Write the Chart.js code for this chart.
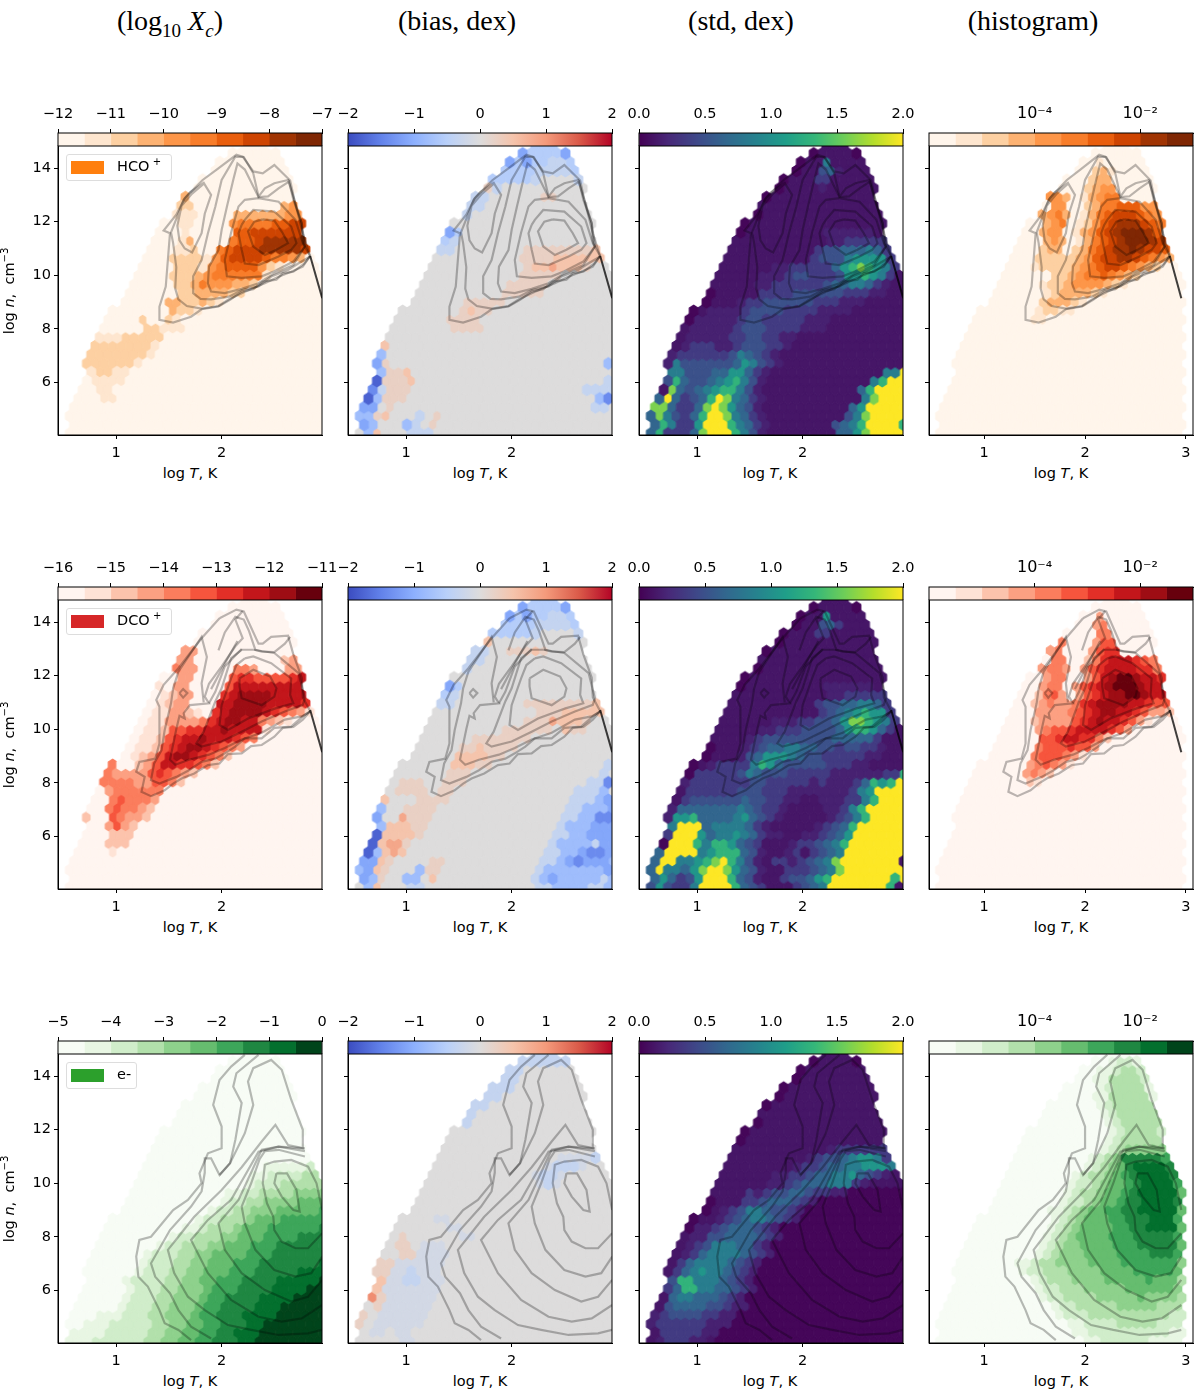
<!DOCTYPE html>
<html>
<head>
<meta charset="utf-8">
<title>Hexbin panels</title>
<script src="https://cdn.jsdelivr.net/npm/chart.js@4"></script>
<style>
html, body { margin: 0; background: #fff; }
body { position: relative; width: 1200px; height: 1391px; overflow: hidden; font-family: "DejaVu Sans", sans-serif; color: #000; }
canvas { position: absolute; }
.head { position: absolute; top: 4px; width: 300px; margin-left: -150px; text-align: center; font: 28px "Liberation Serif", serif; }
.head sub { font-size: 19px; line-height: 0; }
.xlab { position: absolute; width: 160px; margin-left: -80px; text-align: center; font-size: 14.5px; white-space: pre; }
.ylab { position: absolute; left: 10px; width: 160px; height: 18px; margin-left: -80px; margin-top: -9px; text-align: center; font-size: 14.5px; transform: rotate(-90deg); white-space: pre; }
.ylab sup { font-size: 10px; line-height: 0; }
.legend { position: absolute; left: 66px; height: 27px; background: rgba(255,255,255,.8); border: 1px solid #ddd; border-radius: 3px; font-size: 14.5px; box-sizing: border-box; }
.legend b { position: absolute; left: 4px; top: 6px; width: 33px; height: 13px; }
.legend span { position: absolute; left: 50px; top: 3px; white-space: nowrap; }
.legend sup { font-size: 10px; line-height: 0; }
</style>
</head>
<body>
<script>
// Hex grid: start and end column of the covered cells in each row, bottom row first
const footprintStart = [0,1,0,1,1,2,2,3,2,3,3,4,4,5,5,7,7,8,8,9,9,10,10,11,11,13,13,14,15,16,17,18,19,21];
const footprintEnd = [29,30,29,30,29,30,29,30,29,30,29,30,29,30,29,30,29,30,29,29,28,28,27,27,27,27,26,26,26,26,25,25,24,23];

// Colour levels of the stepped bars
const orangeLevels = ['#fff5eb','#fee6cf','#fdd0a2','#fdb272','#fd9649','#f87d2a','#e95e0d','#ce4401','#a03403','#7f2704'];
const redLevels = ['#fff5f0','#fee3d6','#fcc3ac','#fca082','#fb7d5d','#f6553d','#e32f27','#c3161b','#9e0d14','#67000d'];
const greenLevels = ['#f7fcf5','#e8f6e3','#d0edca','#b2e0ab','#8ed18c','#66bd6f','#3da65a','#1f8742','#03702e','#00441b'];
const coolwarmStops = ['#3b4cc0','#6282ea','#8db0fe','#b9d0f9','#dddcdc','#f5c4ac','#f49a7b','#da5a49','#b40426'];
const viridisStops = ['#440154','#482878','#3e4989','#31688e','#26828e','#1f9e89','#35b779','#6ece58','#b5de2b','#fde725'];

// Value of each letter used in the bias and std rows
const biasValues = [-1.8,-1.4,-1.1,-0.8,-0.35,0,0.25,0.5,0.85,1.1,-0.15,-0.55];
const stdValues = [0.03,0.12,0.18,0.35,0.5,0.65,0.85,1.05,1.3,1.6,2.0];

// Tick labels
const xTicks = [1,2];
const xTicksHist = [1,2,3];
const yTicks = [6,8,10,12,14];
const biasTicks = [-2,-1,0,1,2];
const stdTicks = [0,0.5,1,1.5,2];
const histTicks = [-4,-2];
const hcoAbundTicks = [-12,-11,-10,-9,-8,-7];
const dcoAbundTicks = [-16,-15,-14,-13,-12,-11];
const elecAbundTicks = [-5,-4,-3,-2,-1,0];

// Cells as row:column:levels, everything else in the footprint keeps the panel's base level
const hcoAbund = ['27:14:3','26:13:22','25:13:111','24:13:11','23:14:1','22:13:13','21:13:1120056777888887','20:12:2222146777765543','19:13:2221456666421','18:12:222345555551','17:13:2235444332','16:13:22333322','15:12:3322321','14:12:3221','13:9:2','13:12:21','12:9:22','12:11:111','11:4:11122222','10:3:22222221','9:3:22222221','8:2:2222221','7:3:12211','6:3:1111','5:4:11','4:4:11','22:19:566788888','23:20:66777777','24:19:455556677','25:20:33333344','26:25:34'];
const hcoBias = ['33:21:bbb','32:19:2bbbb2','31:18:2b2bb44b','30:17:bbbb4444b','29:16:bbbbb4','29:26:4','28:15:64','27:14:44','27:22:66','26:13:44','25:13:4','23:11:2b','22:10:b4','21:10:44','21:20:666666667','20:19:6666777777','19:20:67787776','18:19:66666','17:18:66666','16:17:66666','15:13:66666','14:12:6766','13:11:6666','12:11:6666','10:3:7','9:3:3','8:2:26','7:3:3667','6:2:06667','5:2:14666','4:1:03666','3:1:2256','2:0:3367','1:1:23','0:1:37','1:6:34','2:7:4','0:6:44','0:8:4','1:9:6','2:9:6','8:29:3','6:29:4','5:27:4444','4:28:31','3:28:44'];
const hcoStd = ['0:0:583335 9aaa8642','0:22:5579aaaaa9','1:1:58633 7aaa8653 2','1:22:456 8aaaa87','2:0:596435 8aa96532','2:23:469aaaaa','3:1:99533 59a97542','3:24:57aaaaa','4:1:5a5345 8a96532','4:25:69aaaa','5:2:19545 6 788642','5:25:58aaaaa','6:2:4854456786 42','6:26:68aa','7:3:66444557753 2','7:28:66a','8:2:264444445764 32','9:3:23333334654 32','10:3:123332234443 32','11:4:122222334 43322','12:4:1222223444333 32 22','13:5:12222234433333 222','14:5:0','14:7:2222344443333 2222','15:7:01112334444443332 22','16:7:0111113333444444333 22','17:12:1223333334556653 2','18:12:122234433347787 63','19:13:11223333357898763','20:19:3444677773','21:20:344555 6 53','22:21:2233333','23:21:222222','31:21:6','30:20:452','29:20:33','28:20:2'];
const hcoHist = ['31:20:1','30:19:231','29:19:233','28:18:2344','27:14:443013455','26:14:44','26:18:235566644','25:13:3453','25:18:1356777654','24:13:345','24:17:12467888765','23:13:344','23:17:134678999865','22:13:343','22:17:135678999876','21:13:233','21:17:235678898776','20:12:22222346778876543','19:12:1222234567765432','18:14:22345565432','17:13:12234444321','16:13:12333321','15:13:233321','14:12:12211','13:12:11'];

const dcoAbund = ['27:14:33','26:13:33','25:13:433','24:13:33','23:11:1033','22:11:1233','21:11:1233','20:10:113321','19:10:11333346788774321','20:17:678888765431','21:18:77888877776','22:18:6788887777','23:19:577777777','24:19:566555567','25:20:443','25:26:33','26:25:23','18:9:112556677877771','17:9:11256778777654','16:8:1125678876543','15:8:123578876542','14:5:4','14:8:2357766542','13:5:43333565432','12:4:4444335542','11:5:344444','11:11:4','10:5:454443','9:5:454432','8:2:2','8:5:54332','7:5:3532','6:5:222','5:5:222','4:5:1'];
const dcoBias = ['33:21:bbb','32:19:2bbbb2','31:18:2b2bb44b','30:17:bbbb4444b','29:16:bbbbb4','29:26:4','28:15:7','27:14:44','27:18:66676','26:13:44','25:13:4','23:11:2b','22:10:b4','21:10:44','21:20:666666667','20:21:66677777','19:20:66687776','18:17:666666','18:24:766','17:14:6666666','16:12:6676666','15:12:777766','14:11:77766','13:11:666','12:5:666','12:10:666','11:5:6666','11:10:66','10:3:7','10:7:6666','9:3:3','9:6:6666','8:2:2','8:5:8666','7:3:377766','6:2:077776','5:2:07886','4:1:03787','3:1:2276','2:0:3276','1:1:236','0:1:37','1:6:33','2:7:3','0:6:44','2:8:66','1:9:7','3:9:66','14:29:4','13:29:4','12:27:441','11:26:4443','10:25:44432','9:25:443332','8:24:4433 11','7:24:433322 2','6:23:4433222','5:23:43333422','4:22:44332112','3:22:443212223','2:21:433333332','1:21:4323333343','0:21:443333443'];
const dcoStd = ['0:0:47433 6aaaa8543 11134 56aaaaaaa8','1:1:5753 47aaa8542 1134457 8aaaaaaa8a','2:0:5a66579aa97542 11333456 9aaaaaaa7','3:1:5aa66789a8642 133 2345 69aaaaaaa','4:1:5aaaa67888542112313456aaaaaaa','5:2:0aaa8688754 31 1123345 68aaaaaaa','6:2:3aaa756676532 2112234 57aaaaaa','7:3:6aaa566665321 111 1234 58aaaaaa','8:2:27785555 675 43211111 234 68aaaa','9:3:2555555565433 21111 2236 8aaaaa','10:3:1344444454433 2211222 33 68aaa','11:4:133333344433 32222222 3 67aaaa','12:4:2333333344 33333 2322 2358 7 8a','13:5:23333346544433333 222222 338','14:5:0','14:7:2333368754 4444333 22','15:7:0111245 777 6544333332 2','16:7:01112 34 55 665544344 3 32','17:12:23444444445 555 53','18:12:1 22 3334444 57887 53','19:13:112 22 3344 57998763','20:20:34567 8773','21:20:3445 5 6653','22:21:2233333','23:21:222222','31:21:7','30:20:453','29:20:33'];
const dcoHist = ['31:20:3','30:19:34','29:20:44','28:15:4','28:19:355','27:14:34','27:19:3566','26:14:44','26:18:246777654','25:13:3443','25:18:3567777664','24:13:344','24:18:35789987765','23:13:344','23:17:356789998775','22:12:2453','22:17:356788998776','21:12:2343','21:16:34678888776554','20:12:3333','20:16:4567887765332','19:12:23333','19:17:5678776531','18:12:345567777653','17:13:556776642','16:12:45556553','15:12:4555431','14:11:345431','13:11:3432','12:11:21'];

const elecAbund = ['0:0:111222222334455667778899999999','1:1:111122222334455667788899999999','2:2:111222223344556677788 9999999','3:4:111222334445667778888999999','4:6:12223344456677778889 9999','5:7:122233444566777788889999','6:7:12223344456667777888899','7:7:122223344556667777888889','8:8:1222334455566677777888','9:9:12223344555666 77777778','10:9:12223344555566 6777777','11:11:122333445556 66777777','12:12:122333445556666777','13:14:11233345556666667','14:15:122333455566666','15:17:12233444555556','16:18:122334444555','17:19:112233334444','18:21:122233333','19:22:11222233','20:23:111112'];
const elecBias = ['33:21:444','32:19:444444','31:18:44','30:17:44','29:16:444','28:15:44','27:14:44','26:13:4','25:13:4','21:24:aaaa4','20:22:a444a','19:21:a44a','18:21:a4a','12:5:6','11:5:66','11:8:aaa','10:5:66','10:7:aaaa','9:3:66','9:5:aaaaaa','8:2:66','8:4:aa4aaa','7:3:7','7:4:aa44aaa','6:2:7','6:3:aaaaaaa','5:2:96','5:4:aaaaaa','4:2:6','4:3:aaaaaa','3:1:6','3:3:aaaaaa','2:0:65','2:2:aaaaaa','1:2:aa','1:5:aa','0:5:aa','13:11:aa','12:12:aa','14:9:aa'];
const elecStd = ['0:8:0000000000000000000000000','1:9:0000000000000000000000','2:9:0000000000000000000000','3:10:000000000000000000000','4:11:00000000000000000000','5:11:00000000000000000000','6:12:0000000000000000000','7:12:0000000000000000000','8:12:0000000000000000000','9:13:000000000000000000','10:14:00000000000000000','11:14:00000000000000000','12:15:0000000000000000','13:15:0000000000000000','14:17:00000000000000','15:18:0000000000000','16:19:000000000000','17:23:00000000','0:0:123332 2','1:1:13333322','2:0:23333332 22','3:1:234444 3322','4:1:145555 443 22','5:2:15665554 32','6:2:3588 66 554 32','7:3:488666 54 32','8:2:1356766 54 32','9:3:1356666 54 32','10:3:12356666 54 32','11:4:123466 6 5532','12:4:12244555 5432','13:5:122345 55 432','14:5:1','14:8:23456654 32','15:9:2346654 4 32','16:11:334555 4 32','17:12:32344 55 4 33 22','18:14:2234 5556 66 32','19:15:2233 455 66 754 32','20:17:2334 55 66 777 65 2','21:19:234 4 56776 32','22:21:2333 33 33'];
const elecHist = ['32:21:1221','31:20:112332','30:19:1133332','29:20:1233331','28:19:11333331','27:20:12333331','26:20:1233333','25:21:12333331','24:21:1233332','23:21:12333332','22:20:123444443','21:19:12347777764','20:18:12345788887','19:17:1233456788887','18:16:12234556788886','17:16:123345567888885','16:15:122345567788887','15:14:11234556677888885','14:14:1234555667778886','13:14:12345555667788885','12:13:12345555666777776','11:13:123445555666777775','10:12:123444555566667776','9:10:1123344445555666666 64','8:10:12233344445555666665','7:12:1233344445555565553','6:12:12233344444555 5554','5:13:122333344444544443','4:14:122333334444 4333','3:15:1222333333333322','2:16:11222233333222','1:17:11222222222211','0:18:112222221111'];

const stdRim = ['32:19:0','32:24:0','31:18:0','30:17:0','29:16:0','28:15:0','27:14:0','25:13:0','24:11:0','23:11:0','16:7:0','15:7:0','14:5:0','13:5:0'];

// Contour lines as [log T, log n]
const hcoContours = [
  [[2.39,12.09],[2.5,12.04],[2.58,11.57],[2.63,11.2],[2.52,10.95],[2.41,10.76],[2.3,11.07],[2.25,11.64],[2.31,12],[2.39,12.09]],
  [[2.19,11.88],[2.22,12.07],[2.3,12.44],[2.5,12.38],[2.66,11.82],[2.71,11.2],[2.66,10.95],[2.54,10.7],[2.35,10.38],[2.22,10.44],[2.19,10.95],[2.16,11.57],[2.19,11.88]],
  [[2.09,11.6],[2.16,12.57],[2.22,12.82],[2.35,12.88],[2.54,12.75],[2.7,12.07],[2.76,11.32],[2.79,11.07],[2.68,10.51],[2.5,10.15],[2.38,9.96],[2.19,9.9],[2.05,9.96],[2.03,10.57],[2.09,11.6]],
  [[2.35,12.92],[2.44,12.95],[2.54,13.25],[2.64,13.5],[2.68,12.82],[2.76,11.95],[2.79,11.07],[2.68,10.38],[2.5,10.07],[2.35,9.7],[2.19,9.49],[2.03,9.33],[1.9,9.39],[1.87,9.7],[1.88,10.32],[1.97,10.94],[2,11.69],[2.05,12.56],[2.11,13.56],[2.15,14.18],[2.22,13.95],[2.35,12.92]],
  [[2.84,10.7],[2.73,10.45],[2.63,10.2],[2.47,9.95],[2.35,9.58],[2.19,9.45],[2.07,9.2],[1.9,9.1],[1.8,9.12],[1.73,9.33],[1.73,9.96],[1.81,10.57],[1.87,11.57],[1.94,12.56],[2,13.56],[2.13,14.43],[2.21,14.42],[2.3,13.81],[2.35,12.94],[2.41,13.25],[2.5,13.44],[2.63,13.56],[2.69,12.82],[2.77,11.57],[2.84,10.7]],
  [[2.84,10.72],[2.77,10.32],[2.66,10.13],[2.54,9.94],[2.41,9.7],[2.3,9.52],[2.19,9.33],[2.07,9.1],[1.97,8.85],[1.81,8.75],[1.67,8.85],[1.59,9.1],[1.56,9.5],[1.57,10.3],[1.54,11.2],[1.52,11.6],[1.59,12.3],[1.64,12.82],[1.7,13.1],[1.83,13.45],[1.9,13],[1.84,12.3],[1.81,11.57],[1.72,10.85],[1.65,11],[1.6,11.3],[1.58,11.85],[1.62,12.6],[1.72,13.05],[1.84,13.45]],
  [[2.84,10.72],[2.78,10.42],[2.68,10.13],[2.58,10.07],[2.52,9.83],[2.39,9.76],[2.3,9.48],[2.19,9.39],[2.08,9.08],[1.97,8.83],[1.81,8.73],[1.71,8.45],[1.54,8.23],[1.41,8.33],[1.41,8.83],[1.47,9.58],[1.49,10.57],[1.51,11.57],[1.45,11.67],[1.57,12.26],[1.65,12.88],[1.82,13.56],[1.95,13.94],[2.14,14.5],[2.2,14.43],[2.3,13.88],[2.39,13.81],[2.5,14.12],[2.65,13.54],[2.69,12.82],[2.76,11.94],[2.77,11.2],[2.84,10.72]]
];
const dcoContours = [
  [[2.17,11.9],[2.3,12.22],[2.46,11.97],[2.52,11.53],[2.5,11.22],[2.38,10.9],[2.19,11.16],[2.17,11.6],[2.17,11.9]],
  [[2.22,12.65],[2.3,12.72],[2.47,12.47],[2.66,11.9],[2.65,11.28],[2.68,10.97],[2.51,10.78],[2.25,10.4],[2.06,9.97],[1.98,10.16],[2,10.9],[2.09,11.9],[2.14,12.4],[2.22,12.65]],
  [[2.3,12.97],[2.5,12.85],[2.73,12.1],[2.79,11.16],[2.77,10.91],[2.6,10.66],[2.38,10.29],[2.19,9.91],[2,9.54],[1.81,9.35],[1.76,9.47],[1.83,9.91],[1.94,11.04],[2,11.53],[2.09,12.66],[2.19,12.97],[2.3,12.97]],
  [[2.84,10.67],[2.76,10.48],[2.6,10.36],[2.38,9.87],[2.19,9.62],[2.03,9.3],[1.88,9.05],[1.69,8.86],[1.56,8.67],[1.51,8.86],[1.57,10],[1.6,10.5],[1.65,10.4],[1.64,10.6],[1.7,10.9],[1.88,10.97],[1.84,11.22],[1.88,11.7],[2,12.35],[2.13,13.1],[2.2,13.4],[2.13,14.1],[2.2,14.42]],
  [[2.84,10.67],[2.77,10.36],[2.68,10.09],[2.58,10.05],[2.5,9.72],[2.38,9.41],[2.28,9.37],[2.19,9.1],[2.06,9.07],[1.98,8.72],[1.87,8.66],[1.74,8.35],[1.62,8.16],[1.54,7.97],[1.46,7.72],[1.33,7.5],[1.24,7.66],[1.27,8.22],[1.19,8.41],[1.22,8.78],[1.37,8.9],[1.41,9.47],[1.41,10.84],[1.38,11.09],[1.45,11.66],[1.59,12.28],[1.81,13.4],[1.98,14.15]],
  [[2.84,10.67],[2.77,10.48],[2.66,10.1],[2.5,10.05],[2.38,9.66],[2.22,9.66],[2.13,9.35],[2.03,9.1],[1.94,8.9],[1.81,8.78],[1.69,8.47],[1.57,8.22],[1.41,7.97],[1.33,8.1],[1.36,8.72],[1.43,9.22],[1.46,9.97],[1.52,10.97],[1.54,11.53],[1.59,12.15],[1.81,13.45],[1.86,12.7],[1.81,11.72],[1.83,11]],
  [[1.98,14.15],[2.14,14.47],[2.21,14.4],[2.35,13.2],[2.39,13.2],[2.47,13.45],[2.63,13.5],[2.68,12.8],[2.76,11.93],[2.77,11.2],[2.84,10.67]],
  [[1.97,12.95],[2.03,13.62],[2.13,14.2],[2.21,14.1],[2.26,13.67],[2.32,12.97],[2.38,12.9],[2.5,12.88],[2.6,13.2],[2.65,13.45]],
  [[1.6,11.35],[1.635,11.5],[1.675,11.35],[1.635,11.18],[1.6,11.35]],
  [[1.88,10.97],[1.94,11.4],[2.03,12.35],[2.19,13]],
  [[1.9,11.5],[2.05,12.6],[2.15,13.3]]
];
const elecContours = [
  [[2.52,10.37],[2.62,10.37],[2.71,9.75],[2.74,8.94],[2.68,9],[2.57,9.5],[2.5,10],[2.52,10.37]],
  [[2.954,8.13],[2.82,7.57],[2.7,7.57],[2.57,7.82],[2.5,8.25],[2.49,8.75],[2.43,9.25],[2.39,10],[2.41,10.69],[2.5,10.81],[2.66,10.87],[2.82,10.62],[2.9,10],[2.954,9]],
  [[2.954,7.26],[2.85,6.64],[2.7,6.51],[2.5,6.76],[2.32,7.51],[2.22,8.5],[2.19,9.13],[2.28,10],[2.36,10.9],[2.41,11.2],[2.54,11.25],[2.79,11]],
  [[2.954,6.39],[2.82,5.76],[2.66,5.58],[2.41,6.01],[2.19,6.64],[2.03,7.51],[1.97,8.5],[2.16,9.38],[2.35,11],[2.38,11.25],[2.54,11.37],[2.79,11.3]],
  [[2.954,5.45],[2.76,4.95],[2.57,4.83],[2.35,5.01],[2.09,5.64],[1.87,6.64],[1.71,7.88],[1.87,8.63],[2.09,9.38],[2.35,11.18],[2.54,11.37],[2.79,11.2]],
  [[2.954,4.52],[2.82,4.39],[2.54,4.33],[2.28,4.52],[2.06,4.7],[1.84,5.26],[1.68,5.76],[1.55,6.64],[1.49,7.51],[1.59,8],[1.74,8.75],[2,9.75],[2.19,10.6],[2.38,11.56],[2.51,12.18],[2.63,11.43],[2.77,11.31],[2.77,12],[2.66,13.12],[2.57,14.24],[2.47,14.61],[2.3,14.3],[2.25,13.8],[2.3,12.93],[2.22,11.87],[2.08,10.75],[1.98,10.31]],
  [[1.9,4.2],[1.71,4.64],[1.59,5.26],[1.51,5.89],[1.37,6.51],[1.33,7.01],[1.51,8.25],[1.71,9.13],[1.81,9.7],[1.84,10.4],[1.84,10.93],[1.9,10.93],[1.98,10.31],[2.08,10.75],[2.13,11.62],[2.19,13],[2.11,13.61],[2.14,14.11],[2.35,14.8]],
  [[1.71,4.14],[1.59,4.52],[1.46,4.77],[1.41,5.26],[1.3,6.14],[1.21,6.51],[1.19,7.26],[1.22,7.88],[1.33,8],[1.54,9],[1.68,9.38],[1.81,10],[1.79,10.37],[1.87,11.12],[2,11.31],[2,12.12],[1.92,12.93],[1.98,13.86],[2.09,14.36],[2.22,14.8]]
];
const outerTail = [[2.954,9.14],[2.84,10.72]];

const xMinMain = 0.448, xMaxMain = 2.952, xMinHist = 0.453, xMaxHist = 3.07;
const yMin = 4.03, yMax = 14.83;
const colStep = 0.0813, rowStep = 0.327, firstCol = 0.519, firstRow = 4.086;
const panelW = 264, panelH = 289;
const colLeft = [58, 348.3, 639, 929.3];
const rowTop = [146, 600, 1054];

function hexToRgb(c) {
    return [1, 3, 5].map(i => parseInt(c.slice(i, i + 2), 16));
}

// Colour at t (0..1) along a list of stops
function rampColor(stops, t) {
    const p = Math.max(0, Math.min(1, t)) * (stops.length - 1);
    const i = Math.min(Math.floor(p), stops.length - 2);
    const a = hexToRgb(stops[i]), b = hexToRgb(stops[i + 1]);
    const mix = a.map((v, k) => Math.round(v + (b[k] - v) * (p - i)));
    return `rgb(${mix.join(',')})`;
}

// Picture of one hexagon, used as the point style
function hexImage(color, w) {
    const h = rowStep * (panelH / (yMax - yMin)) * 4 / 3;
    const cv = document.createElement('canvas');
    cv.width = Math.ceil(w) + 4;
    cv.height = Math.ceil(h) + 4;
    const c = cv.getContext('2d');
    c.translate(cv.width / 2, cv.height / 2);
    c.beginPath();
    [[0,-h/2],[w/2,-h/4],[w/2,h/4],[0,h/2],[-w/2,h/4],[-w/2,-h/4]].forEach((p, i) => i ? c.lineTo(p[0], p[1]) : c.moveTo(p[0], p[1]));
    c.closePath();
    c.fillStyle = color;
    c.strokeStyle = color;
    c.lineWidth = 1.3;
    c.lineJoin = 'round';
    c.fill();
    c.stroke();
    return cv;
}

// Group the cells of a panel by level
function buildCells(base, patches) {
    const grid = footprintStart.map((s, r) => {
        const row = {};
        for (let c = s; c <= footprintEnd[r]; c++) row[c] = base;
        return row;
    });
    patches.forEach(p => {
        const [r, c, levels] = p.split(':');
        levels.replace(/ /g, '').split('').forEach((ch, i) => {
            const col = +c + i;
            if (grid[r][col] !== undefined) grid[r][col] = parseInt(ch, 36);
        });
    });
    const byLevel = {};
    grid.forEach((row, r) => {
        Object.keys(row).forEach(c => {
            const lv = row[c];
            (byLevel[lv] = byLevel[lv] || []).push({
                x: firstCol + colStep * (+c) + (r % 2 ? 0 : colStep / 2),
                y: firstRow + rowStep * r
            });
        });
    });
    return byLevel;
}

const framePlugin = {
    id: 'frame',
    afterDraw(chart) {
        const a = chart.chartArea, c = chart.ctx;
        c.save();
        c.strokeStyle = '#000';
        c.lineWidth = 1;
        c.strokeRect(a.left, a.top, a.right - a.left, a.bottom - a.top);
        c.restore();
    }
};

function makeCanvas(left, top, w, h) {
    const cv = document.createElement('canvas');
    cv.width = w;
    cv.height = h;
    cv.style.left = left + 'px';
    cv.style.top = top + 'px';
    document.body.appendChild(cv);
    return cv;
}

const tickFont = { family: 'DejaVu Sans', size: 14.5 };

function addPanel(col, row, base, patches, colorOf, contours, tail) {
    const hist = col === 3;
    const xMin = hist ? xMinHist : xMinMain, xMax = hist ? xMaxHist : xMaxMain;
    const hexW = colStep * panelW / (xMax - xMin);
    const cells = buildCells(base, patches);
    const hexSets = Object.keys(cells).map(lv => ({
        data: cells[lv],
        pointStyle: hexImage(colorOf(+lv), hexW),
        pointRadius: 7,
        pointHoverRadius: 7,
        showLine: false,
        order: 2
    }));
    const lines = contours.map(line => ({
        data: line.map(p => ({ x: p[0], y: p[1] })),
        showLine: true,
        borderColor: 'rgba(0,0,0,0.27)',
        borderWidth: 2.2,
        pointRadius: 0,
        order: 1
    }));
    if (tail) {
        lines.push({
            data: tail.map(p => ({ x: p[0], y: p[1] })),
            showLine: true,
            borderColor: 'rgba(0,0,0,0.75)',
            borderWidth: 2,
            pointRadius: 0,
            order: 0
        });
    }
    const cv = makeCanvas(colLeft[col] - 40, rowTop[row] - 14, panelW + 50, panelH + 14 + 30);
    new Chart(cv, {
        type: 'scatter',
        data: { datasets: lines.concat(hexSets) },
        plugins: [framePlugin],
        options: {
            responsive: false,
            animation: false,
            events: [],
            layout: { padding: { top: 14, right: 10, left: 0, bottom: 0 } },
            plugins: { legend: { display: false }, tooltip: { enabled: false } },
            scales: {
                x: {
                    type: 'linear', min: xMin, max: xMax,
                    afterFit: s => { s.height = 30; },
                    afterBuildTicks: s => { s.ticks = (hist ? xTicksHist : xTicks).map(v => ({ value: v })); },
                    grid: { drawOnChartArea: false, tickLength: 4, tickColor: '#000' },
                    border: { color: '#000' },
                    ticks: { font: tickFont, color: '#000', maxRotation: 0, autoSkip: false, padding: 6 }
                },
                y: {
                    type: 'linear', min: yMin, max: yMax,
                    afterFit: s => { s.width = 40; },
                    afterBuildTicks: s => { s.ticks = yTicks.map(v => ({ value: v })); },
                    grid: { drawOnChartArea: false, tickLength: 4, tickColor: '#000' },
                    border: { color: '#000' },
                    ticks: { display: col === 0, font: tickFont, color: '#000', autoSkip: false, padding: 3 }
                }
            }
        }
    });
}

function tickText(v, mode) {
    if (mode === 'hist') return '10' + String(v).replace('-', '⁻').replace('4', '⁴').replace('2', '²');
    if (mode === 'std') return v.toFixed(1);
    return String(v).replace('-', '−');
}

// Colour bar above a panel
function addBar(col, row, lo, hi, ticks, mode, levels, stops) {
    let sets;
    if (levels) {
        const step = (hi - lo) / levels.length;
        sets = levels.map((c, i) => ({ data: [[lo + step * i, lo + step * (i + 1)]], backgroundColor: c }));
    } else {
        sets = [{
            data: [[lo, hi]],
            backgroundColor: ctx => {
                const a = ctx.chart.chartArea;
                if (!a) return '#ccc';
                const g = ctx.chart.ctx.createLinearGradient(a.left, 0, a.right, 0);
                stops.forEach((c, i) => g.addColorStop(i / (stops.length - 1), c));
                return g;
            }
        }];
    }
    const cv = makeCanvas(colLeft[col] - 26, rowTop[row] - 52, panelW + 52, 52);
    new Chart(cv, {
        type: 'bar',
        data: { labels: ['bar'], datasets: sets },
        plugins: [framePlugin],
        options: {
            indexAxis: 'y',
            responsive: false,
            animation: false,
            events: [],
            grouped: false,
            barPercentage: 1,
            categoryPercentage: 1,
            layout: { padding: { left: 26, right: 26, top: 0, bottom: 0 } },
            plugins: { legend: { display: false }, tooltip: { enabled: false } },
            scales: {
                x: {
                    type: 'linear', position: 'top', min: lo, max: hi,
                    afterFit: s => { s.height = 39; },
                    afterBuildTicks: s => { s.ticks = ticks.map(v => ({ value: v })); },
                    grid: { drawOnChartArea: false, tickLength: 4, tickColor: '#000' },
                    border: { color: '#000' },
                    ticks: { font: mode === 'hist' ? { family: 'DejaVu Sans', size: 16 } : tickFont, color: '#000', maxRotation: 0, autoSkip: false, padding: 6, callback: v => tickText(v, mode) }
                },
                y: { display: false }
            }
        }
    });
}

function addHtml(cls, html, left, top) {
    const d = document.createElement('div');
    d.className = cls;
    d.innerHTML = html;
    if (left !== null) d.style.left = left + 'px';
    d.style.top = top + 'px';
    document.body.appendChild(d);
    return d;
}

const biasColor = lv => rampColor(coolwarmStops, (biasValues[lv] + 2) / 4);
const stdColor = lv => rampColor(viridisStops, stdValues[lv] / 2);

const rows = [
    { abund: hcoAbund, bias: hcoBias, std: hcoStd, hist: hcoHist, levels: orangeLevels, lo: -12, hi: -7, ticks: hcoAbundTicks, contours: hcoContours, tail: outerTail, swatch: '#ff7f0e', name: 'HCO<sup> +</sup>', legendW: 106 },
    { abund: dcoAbund, bias: dcoBias, std: dcoStd, hist: dcoHist, levels: redLevels, lo: -16, hi: -11, ticks: dcoAbundTicks, contours: dcoContours, tail: outerTail, swatch: '#d62728', name: 'DCO<sup> +</sup>', legendW: 106 },
    { abund: elecAbund, bias: elecBias, std: elecStd, hist: elecHist, levels: greenLevels, lo: -5, hi: 0, ticks: elecAbundTicks, contours: elecContours, tail: null, swatch: '#2ca02c', name: 'e-', legendW: 71 }
];

rows.forEach((r, i) => {
    addPanel(0, i, 0, r.abund, lv => r.levels[lv], r.contours, r.tail);
    addPanel(1, i, 5, r.bias, biasColor, r.contours, r.tail);
    addPanel(2, i, 1, r.std.concat(stdRim), stdColor, r.contours, r.tail);
    addPanel(3, i, 0, r.hist, lv => r.levels[lv], r.contours, r.tail);
    addBar(0, i, r.lo, r.hi, r.ticks, 'abund', r.levels);
    addBar(1, i, -2, 2, biasTicks, 'bias', null, coolwarmStops);
    addBar(2, i, 0, 2, stdTicks, 'std', null, viridisStops);
    addBar(3, i, -6, -1, histTicks, 'hist', r.levels);

    const bottom = rowTop[i] + panelH;
    [190, 480, 770, 1061].forEach(x => addHtml('xlab', 'log <i>T</i>, K', x, bottom + 30));
    addHtml('ylab', 'log <i>n</i>,  cm<sup>−3</sup>', null, rowTop[i] + 145);
    const lg = addHtml('legend', `<b style="background:${r.swatch}"></b><span>${r.name}</span>`, null, rowTop[i] + 8);
    lg.style.width = r.legendW + 'px';
});

addHtml('head', '(log<sub>10</sub> <i>X<sub>c</sub></i>)', 170, 5);
addHtml('head', '(bias, dex)', 457, 5);
addHtml('head', '(std, dex)', 741, 5);
addHtml('head', '(histogram)', 1033, 5);
</script>
</body>
</html>
